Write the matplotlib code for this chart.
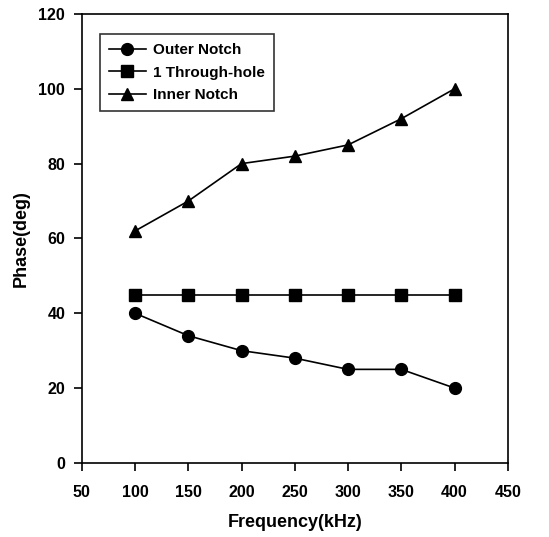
import matplotlib
matplotlib.use("Agg")
import matplotlib.pyplot as plt

freq = [100, 150, 200, 250, 300, 350, 400]
outer_notch = [40, 34, 30, 28, 25, 25, 20]
through_hole = [45, 45, 45, 45, 45, 45, 45]
inner_notch = [62, 70, 80, 82, 85, 92, 100]
labels = ["Outer Notch", "1 Through-hole", "Inner Notch"]

plt.rcParams['font.family'] = ['Liberation Sans', 'DejaVu Sans']
fig = plt.figure(figsize=(5.49, 5.37), dpi=100)
ax = fig.add_axes([0.149, 0.138, 0.776, 0.836])

ax.plot(freq, outer_notch, color='black', lw=1.2, marker='o', ms=8.5, label=labels[0])
ax.plot(freq, through_hole, color='black', lw=1.2, marker='s', ms=8, label=labels[1])
ax.plot(freq, inner_notch, color='black', lw=1.2, marker='^', ms=9, label=labels[2], clip_on=False)

ax.set_xlim(50, 450)
ax.set_ylim(0, 120)
ax.set_xticks(range(50, 451, 50))
ax.set_yticks(range(0, 121, 20))
ax.tick_params(direction='out', length=6, width=1.2, labelsize=11.5)
ax.tick_params(axis='x', pad=10)
ax.tick_params(axis='y', pad=6)
for lab in ax.get_xticklabels() + ax.get_yticklabels():
    lab.set_fontweight('bold')
for s in ax.spines.values():
    s.set_linewidth(1.2)
ax.set_xlabel("Frequency(kHz)", fontsize=13, fontweight='bold', labelpad=10)
ax.set_ylabel("Phase(deg)", fontsize=13, fontweight='bold', labelpad=6)

leg = ax.legend(loc='upper left', bbox_to_anchor=(0.042, 0.955), frameon=True, fancybox=False,
                edgecolor='black', fontsize=11, handlelength=2.4, borderpad=0.6,
                labelspacing=0.55, handletextpad=0.5, borderaxespad=0)
leg.get_frame().set_linewidth(1.2)
for t in leg.get_texts():
    t.set_fontweight('bold')

fig.savefig("out.png", dpi=100)
